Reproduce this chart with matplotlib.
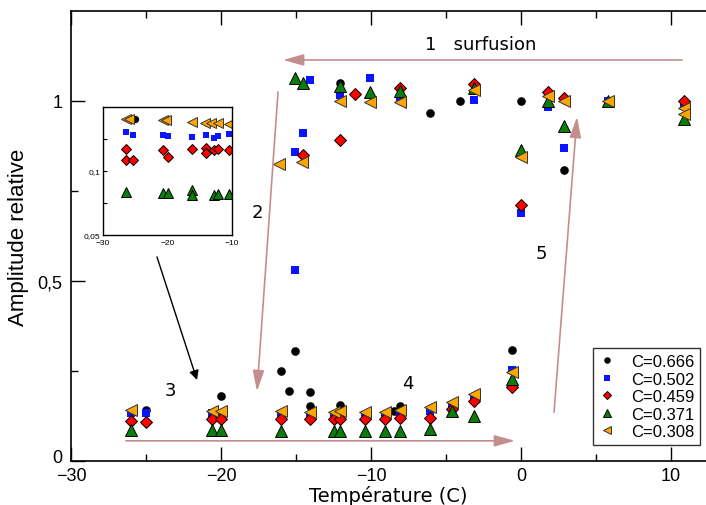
import matplotlib
matplotlib.use("Agg")
import matplotlib.pyplot as plt
import matplotlib.transforms as mtransforms
from matplotlib.ticker import FixedLocator, FuncFormatter, NullFormatter

plt.rcParams['font.family'] = ['Liberation Sans', 'DejaVu Sans']

labels = ["C=0.666", "C=0.502", "C=0.459", "C=0.371", "C=0.308"]

# ---- main data: temperature (C), relative amplitude ----
t_0666 = [-25, -20, -16.0, -15.07, -15.5, -14.07, -14.07, -12.07, -8.5, -8.07, -0.6,
          -12.07, -6.07, -4.1, 0.0, 2.87]
a_0666 = [0.142, 0.18, 0.25, 0.306, 0.194, 0.192, 0.153, 0.156, 0.139, 0.153, 0.308,
          1.05, 0.967, 1.0, 1.0, 0.808]

t_0502 = [-26, -25, -20.6, -20, -16, -14.07, -12.5, -12.07, -10.4, -9.07, -8.07, -6.07, -4.6, -3.13, -0.6,
          -15.07, -15.07, -14.53, -14.07, -12.07, -10.07, -8.07, -3.13, 0.0, 1.8, 2.87, 5.8, 10.87]
a_0502 = [0.133, 0.133, 0.133, 0.13, 0.13, 0.125, 0.127, 0.125, 0.128, 0.128, 0.13, 0.14, 0.15, 0.17, 0.253,
          0.53, 0.858, 0.911, 1.058, 1.017, 1.064, 1.011, 1.003, 0.689, 0.983, 0.87, 1.0, 0.99]

t_0459 = [-26, -25, -20.6, -20, -16, -14.07, -12.5, -12.07, -10.4, -9.07, -8.07, -6.07, -4.6, -3.13, -0.6,
          -14.56, -12.07, -11.07, -8.07, -3.13, 0.0, 1.8, 2.87, 10.87]
a_0459 = [0.112, 0.108, 0.117, 0.117, 0.117, 0.117, 0.117, 0.117, 0.117, 0.117, 0.119, 0.119, 0.144, 0.167, 0.205,
          0.851, 0.892, 1.019, 1.036, 1.047, 0.711, 1.025, 1.008, 1.0]

t_0371 = [-26, -20.6, -20, -16, -12.5, -12.07, -10.4, -9.07, -8.07, -6.07, -4.6, -3.13, -0.6,
          -15.07, -14.53, -12.07, -10.07, -8.07, -3.13, 0.0, 1.8, 2.87, 5.8, 10.87]
a_0371 = [0.086, 0.086, 0.086, 0.083, 0.083, 0.083, 0.083, 0.083, 0.083, 0.089, 0.14, 0.125, 0.228,
          1.064, 1.05, 1.042, 1.025, 1.028, 1.036, 0.864, 1.0, 0.931, 1.0, 0.95]

t_0308 = [-26, -20.6, -20, -16, -14.07, -12.5, -12.07, -10.4, -9.07, -8.07, -6.07, -4.6, -3.13, -0.6,
          -16.13, -14.62, -12.07, -10.07, -8.07, -3.13, 0.0, 1.8, 2.87, 5.8, 10.87, 10.87]
a_0308 = [0.142, 0.139, 0.139, 0.139, 0.136, 0.136, 0.139, 0.136, 0.136, 0.142, 0.15, 0.164, 0.186, 0.247,
          0.825, 0.83, 1.0, 0.997, 0.997, 1.03, 0.844, 1.014, 1.0, 1.0, 0.98, 0.964]

# ---- inset data (log scale) ----
it_0666 = [-25.0]
ia_0666 = [0.175]
it_0502 = [-26.5, -25.4, -20.7, -19.9, -16.2, -14.1, -12.8, -12.2, -10.5]
ia_0502 = [0.153, 0.147, 0.147, 0.146, 0.145, 0.147, 0.143, 0.146, 0.15]
it_0459 = [-26.5, -26.5, -25.4, -20.7, -20.0, -16.2, -14.1, -14.1, -12.8, -12.2, -10.5]
ia_0459 = [0.127, 0.113, 0.113, 0.126, 0.117, 0.127, 0.128, 0.121, 0.126, 0.127, 0.126]
it_0371 = [-26.5, -20.7, -19.9, -16.2, -16.2, -12.8, -12.2, -10.5]
ia_0371 = [0.080, 0.079, 0.079, 0.081, 0.077, 0.0775, 0.078, 0.078]
it_0308 = [-26.4, -25.9, -20.7, -20.2, -16.2, -14.2, -13.2, -12.2, -10.5]
ia_0308 = [0.175, 0.175, 0.173, 0.173, 0.17, 0.169, 0.168, 0.168, 0.166]

styles = [
    dict(marker='o', color='black', markersize=6.2, markeredgewidth=0),
    dict(marker='s', color='#0a14ff', markersize=5.6, markeredgewidth=0),
    dict(marker='D', markerfacecolor='#ff0000', markeredgecolor='black', markersize=6.0, markeredgewidth=0.7),
    dict(marker='^', markerfacecolor='#0a7d0a', markeredgecolor='black', markersize=8.5, markeredgewidth=0.7),
    dict(marker='<', markerfacecolor='#ffa500', markeredgecolor='#333333', markersize=8.5, markeredgewidth=0.7),
]
inset_styles = [dict(s, markersize=s['markersize'] * 0.85) for s in styles]

main_series = [(t_0666, a_0666), (t_0502, a_0502), (t_0459, a_0459), (t_0371, a_0371), (t_0308, a_0308)]
inset_series = [(it_0666, ia_0666), (it_0502, ia_0502), (it_0459, ia_0459), (it_0371, ia_0371), (it_0308, ia_0308)]

fig = plt.figure(figsize=(7.06, 5.06), dpi=100)
ax = fig.add_axes([71/706, 44/506, 635/706, 450/506])

handles = []
for (t, a), st, lab in zip(main_series, styles, labels):
    h, = ax.plot(t, a, linestyle='none', label=lab, **st)
    handles.append(h)

ax.set_xlim(-30, 12.33)
ax.set_ylim(0, 1.25)
ax.xaxis.set_major_locator(FixedLocator([-30, -20, -10, 0, 10]))
ax.xaxis.set_minor_locator(FixedLocator([-25, -15, -5, 5]))
ax.yaxis.set_major_locator(FixedLocator([0, 0.5, 1]))
ax.yaxis.set_minor_locator(FixedLocator([0.25, 0.75]))
ax.yaxis.set_major_formatter(FuncFormatter(lambda v, p: ('%g' % v).replace('.', ',')))
ax.tick_params(which='major', direction='in', length=10, width=1, labelsize=13, top=True, right=False, pad=4)
ax.tick_params(axis='y', which='major', pad=6)
ax.tick_params(which='minor', direction='in', length=5, width=1, top=True, right=False)
ax.spines['right'].set_visible(False)
for s in ['left', 'bottom', 'top']:
    ax.spines[s].set_linewidth(1.2)

ax.set_xlabel('Température (C)', fontsize=14, family=['DejaVu Sans'], labelpad=1)
ax.set_ylabel('Amplitude relative', fontsize=16, labelpad=6)

acol = '#c48e8e'
arrowprops = dict(arrowstyle='-|>,head_length=0.9,head_width=0.25', color=acol, lw=1.2,
                  mutation_scale=14, shrinkA=0, shrinkB=0)
ax.annotate('', xy=(-15.87, 1.114), xytext=(10.73, 1.114), arrowprops=arrowprops)
ax.annotate('', xy=(-17.6, 0.194), xytext=(-16.2, 1.025), arrowprops=arrowprops)
ax.annotate('', xy=(-0.4, 0.056), xytext=(-26.33, 0.056), arrowprops=arrowprops)
ax.annotate('', xy=(3.73, 0.956), xytext=(2.2, 0.136), arrowprops=arrowprops)
ax.annotate('', xy=(-21.6, 0.225), xytext=(-24.27, 0.567),
            arrowprops=dict(arrowstyle='-|>', color='black', lw=1.0, mutation_scale=14, shrinkA=0, shrinkB=0))

tfont = dict(fontsize=13, family=['DejaVu Sans'])
ax.text(-6.4, 1.158, '1   surfusion', ha='left', va='center', **tfont)
ax.text(-17.6, 0.692, '2', ha='center', va='center', **tfont)
ax.text(-23.4, 0.197, '3', ha='center', va='center', **tfont)
ax.text(-7.53, 0.217, '4', ha='center', va='center', **tfont)
ax.text(1.33, 0.578, '5', ha='center', va='center', **tfont)

leg = ax.legend(handles=handles, loc='lower right', fontsize=12, frameon=True, fancybox=False,
                edgecolor='black', handlelength=1.0, handletextpad=0.9, borderpad=0.35,
                labelspacing=0.15, markerscale=0.75, borderaxespad=0.0)
leg.get_frame().set_linewidth(1.0)
leg.set_bbox_to_anchor((700/706, 60/506), transform=fig.transFigure)

# nudge the "0" y tick label up a little so it does not collide with "-30"
fig.canvas.draw()
for lbl in ax.get_yticklabels():
    if lbl.get_text() == '0':
        lbl.set_transform(lbl.get_transform() + mtransforms.ScaledTranslation(0, 4/72, fig.dpi_scale_trans))

# ---- inset ----
ins = fig.add_axes([103/706, (506-236)/506, 129/706, 128/506])
for (t, a), st in zip(inset_series, inset_styles):
    ins.plot(t, a, linestyle='none', **st)
ins.set_yscale('log')
ins.set_xlim(-30, -10)
ins.set_ylim(0.05, 0.2)
ins.xaxis.set_major_locator(FixedLocator([-30, -20, -10]))
ins.xaxis.set_minor_locator(FixedLocator([]))
ins.yaxis.set_major_locator(FixedLocator([0.05, 0.1]))
ins.yaxis.set_minor_locator(FixedLocator([0.0707, 0.1414]))
ins.yaxis.set_major_formatter(FuncFormatter(lambda v, p: ('%g' % v).replace('.', ',')))
ins.yaxis.set_minor_formatter(NullFormatter())
ins.tick_params(which='both', direction='in', length=3, width=0.8, labelsize=6, pad=2)
ins.tick_params(axis='x', length=0, pad=3)
for s in ins.spines.values():
    s.set_linewidth(1.0)

fig.savefig('out.png', dpi=100)
